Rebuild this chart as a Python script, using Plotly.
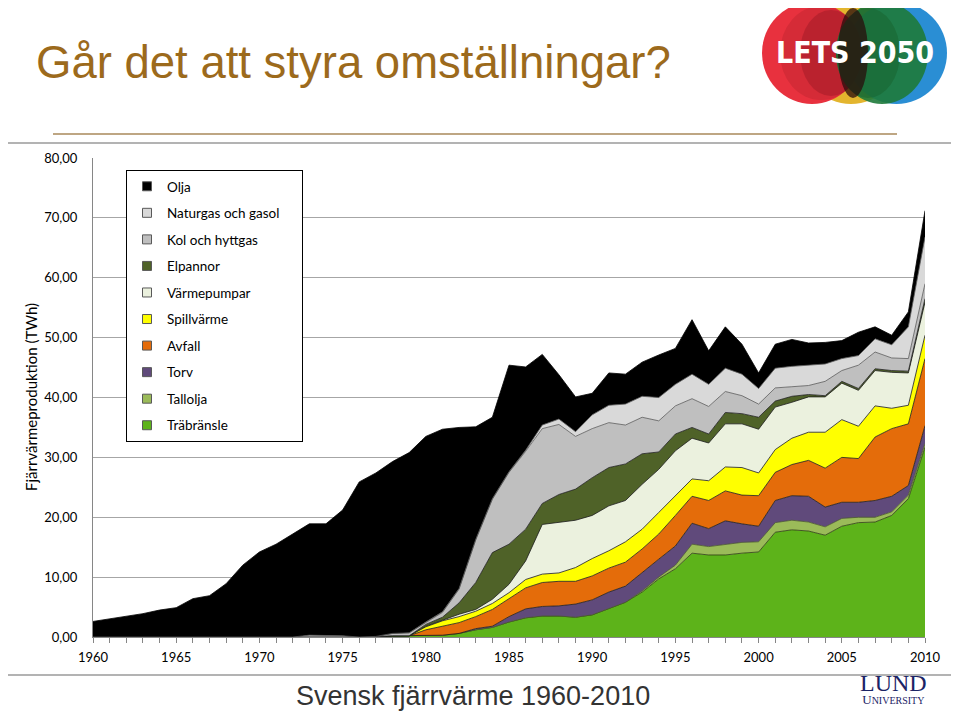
import plotly.graph_objects as go

# ---------------- data (TWh) ----------------
years = list(range(1960, 2011))

z20 = [0] * 20
trabransle = [0] * 17 + [0.1, 0.2, 0.2] + [
    0.2, 0.3, 0.6, 1.2, 1.6, 2.5, 3.2, 3.5, 3.5, 3.3, 3.7, 4.7, 5.8, 7.5, 9.7, 11.4,
    14.0, 13.7, 13.7, 14.0, 14.2, 17.5, 17.9, 17.7, 17.0, 18.5, 19.1, 19.2, 20.3, 23.1, 31.7]
tallolja = z20 + [0] * 13 + [
    0.2, 0.3, 0.6, 1.5, 1.4, 1.8, 1.8, 1.7, 1.6, 1.6, 1.5, 1.4, 1.3, 0.9, 0.8, 0.6, 0.6, 0.6]
torv = z20 + [
    0, 0, 0, 0.2, 0.2, 0.9, 1.5, 1.6, 1.7, 2.2, 2.5, 2.8, 2.7, 3.1, 3.0, 3.2,
    3.5, 3.0, 3.9, 3.1, 2.6, 3.7, 4.1, 4.3, 3.3, 2.7, 2.5, 2.8, 2.6, 1.6, 3.0]
avfall = z20 + [
    1.0, 1.5, 1.8, 2.0, 2.8, 3.0, 3.5, 4.0, 4.1, 3.8, 4.0, 4.0, 4.0, 3.9, 4.2, 5.1,
    4.5, 4.7, 5.0, 4.8, 5.1, 4.7, 5.2, 6.0, 6.5, 7.5, 7.3, 10.6, 11.3, 10.3, 11.2]
spillvarme = z20 + [
    0.5, 0.9, 1.0, 0.9, 1.0, 1.0, 1.4, 1.4, 1.4, 2.3, 2.9, 2.9, 3.4, 3.3, 3.6, 3.3,
    2.9, 3.3, 4.0, 4.6, 3.8, 3.8, 4.4, 4.7, 6.0, 6.3, 5.4, 5.2, 3.4, 3.1, 3.9]
varmepumpar = z20 + [
    0.1, 0.1, 0.4, 0.3, 0.7, 1.4, 3.1, 8.3, 8.4, 7.9, 7.2, 7.5, 6.9, 7.5, 7.2, 7.5,
    6.8, 6.3, 7.2, 7.3, 7.3, 7.1, 6.0, 5.9, 5.9, 6.1, 6.0, 5.9, 6.0, 5.4, 5.5]
elpannor = z20 + [
    0.3, 0.5, 1.9, 4.5, 7.8, 6.7, 5.3, 3.5, 4.7, 5.2, 6.3, 6.4, 6.1, 5.1, 2.9, 2.8,
    1.8, 1.5, 1.9, 1.7, 2.0, 1.0, 1.0, 0.4, 0.2, 0.3, 0.3, 0.3, 0.3, 0.3, 0.6]
kol = [0] * 18 + [0.4, 0.5] + [
    0.3, 0.8, 2.3, 7.1, 8.9, 12.0, 13.0, 12.5, 11.7, 8.8, 8.2, 7.5, 6.5, 6.1, 5.2, 4.7,
    4.8, 4.6, 3.5, 3.0, 2.2, 2.2, 1.6, 1.5, 2.4, 1.8, 3.9, 2.8, 2.1, 2.1, 2.5]
naturgas = [0] * 13 + [0.3, 0.3, 0.2] + [0] * 4 + [
    0.1, 0.1, 0.1, 0.1, 0.1, 0.1, 0.2, 0.6, 0.9, 0.8, 2.3, 2.9, 3.5, 3.5, 3.9, 3.6,
    4.1, 3.7, 3.9, 3.6, 2.6, 3.3, 3.4, 3.4, 2.9, 2.0, 1.6, 2.2, 2.2, 5.3, 7.8]
olja = [
    2.6, 3.0, 3.5, 3.9, 4.5, 4.9, 6.4, 6.9, 8.9, 12.0, 14.2, 15.5, 17.2, 18.6, 18.6,
    21.0, 25.9, 27.3, 28.7, 30.1,
    31.0, 30.5, 26.9, 18.8, 13.6, 17.8, 13.9, 11.8, 7.4, 5.8, 3.6, 5.4, 5.0, 5.7, 7.1,
    6.0, 9.1, 5.6, 6.9, 5.0, 2.6, 4.0, 4.5, 3.7, 3.6, 3.0, 3.9, 2.0, 1.6, 2.5, 4.4]

# stacking order bottom -> top
series_names = ["Träbränsle", "Tallolja", "Torv", "Avfall", "Spillvärme",
                "Värmepumpar", "Elpannor", "Kol och hyttgas", "Naturgas och gasol", "Olja"]
series_values = [trabransle, tallolja, torv, avfall, spillvarme,
                 varmepumpar, elpannor, kol, naturgas, olja]
series_colors = ["#5DB31A", "#9BBB59", "#604A7B", "#E46C0A", "#FFFF00",
                 "#EBF1DE", "#4F6228", "#BFBFBF", "#D9D9D9", "#000000"]
edge_colors = ["#2b3a10", "#4a5a2a", "#1a1a1a", "#1a1a1a", "#1a1a1a",
               "#1a1a1a", "#1a1a1a", "#595959", "#595959", "#000000"]

yticks = [0, 10, 20, 30, 40, 50, 60, 70, 80]
xticks = [1960, 1965, 1970, 1975, 1980, 1985, 1990, 1995, 2000, 2005, 2010]

# ---------------- geometry (reference pixel frame) ----------------
OFF = 8                      # page body margin of the html page
W, H = 959 - OFF, 713 - OFF
PL, PR, PT, PB = 93, 925, 158, 637


def fx(x):
    return (x - PL) / (PR - PL)


def fy(y):
    return (PB - y) / (PB - PT)


fig = go.Figure()

for name, vals, col, ec in zip(series_names, series_values, series_colors, edge_colors):
    fig.add_trace(go.Scatter(
        x=years, y=vals, name=name, stackgroup="one", mode="lines",
        line=dict(color=ec, width=0.8), fillcolor=col, showlegend=False,
        hoverinfo="x+y+name"))

# legend entries (square swatches), top to bottom as in the reference
pad = {"Naturgas och gasol": "\u2003\u2002"}
for name, col in zip(series_names[::-1], series_colors[::-1]):
    fig.add_trace(go.Scatter(
        x=[None], y=[None], mode="markers", name=name + pad.get(name, ""), legendgroup=name,
        marker=dict(symbol="square", size=9, color=col,
                    line=dict(color="#595959", width=1))))

title_col = "#9C6A1C"

annotations = [
    dict(text="Går det att styra omställningar?", x=fx(34), y=fy(62), xref="paper", yref="paper",
         xanchor="left", yanchor="middle", showarrow=False,
         font=dict(family="Liberation Sans, Arial, sans-serif", size=45.5, color=title_col)),
    dict(text="Svensk fjärrvärme 1960-2010", x=fx(473), y=fy(696), xref="paper", yref="paper",
         xanchor="center", yanchor="middle", showarrow=False,
         font=dict(family="Liberation Sans, Arial, sans-serif", size=27, color="#333333")),
    dict(text="Fjärrvärmeproduktion (TWh)", x=fx(31), y=fy(397), xref="paper", yref="paper",
         xanchor="center", yanchor="middle", showarrow=False, textangle=-90,
         font=dict(family="Lato, sans-serif", size=15, color="#000000")),
    dict(text="<b>LETS 2050</b>", x=fx(855), y=fy(53), xref="paper", yref="paper",
         xanchor="center", yanchor="middle", showarrow=False,
         font=dict(family="DejaVu Sans Condensed, Liberation Sans Narrow, sans-serif",
                   size=30, color="#FFFFFF")),
    dict(text="<span style='font-size:24px'>LUND</span><br>"
              "<span style='font-size:13px'>U</span>NIVERSITY",
         x=fx(893), y=fy(688), xref="paper", yref="paper",
         xanchor="center", yanchor="middle", showarrow=False, align="center",
         font=dict(family="Liberation Serif, serif", size=10, color="#1B2466")),
]


def circ(x0, x1, y0, y1, color, opacity=1.0):
    return dict(type="circle", xref="paper", yref="paper", x0=fx(x0), x1=fx(x1),
                y0=fy(y1), y1=fy(y0), fillcolor=color, opacity=opacity, line=dict(width=0))


shapes = [
    # chart frame
    dict(type="rect", xref="paper", yref="paper", x0=fx(3), x1=fx(956), y0=fy(675), y1=fy(143),
         line=dict(color="#9a9a9a", width=1.5), fillcolor="rgba(0,0,0,0)", layer="below"),
    # title rule
    dict(type="line", xref="paper", yref="paper", x0=fx(53), x1=fx(897), y0=fy(134), y1=fy(134),
         line=dict(color="#A8885A", width=1.5)),
    # LETS 2050 logo discs
    circ(800, 902, 2, 104, "#E3B52E"),
    circ(846, 947, 2, 104, "#2A8ED4"),
    circ(762, 862, 2, 104, "#E8313E"),
    circ(780, 862, 6, 100, "#C52632", 0.55),
    circ(800, 862, 10, 96, "#A41C28", 0.55),
    circ(836, 928, 2, 104, "#1E7A3A", 0.9),
    circ(836, 900, 8, 98, "#17612D", 0.5),
    circ(838, 868, 8, 98, "#2A0C0C", 0.75),
]

fig.update_layout(
    width=W, height=H,
    margin=dict(l=PL - OFF, r=959 - PR, t=PT - OFF, b=713 - PB, autoexpand=False),
    paper_bgcolor="white", plot_bgcolor="white",
    separators=", ",
    font=dict(family="Lato, sans-serif", size=13, color="#000000"),
    showlegend=True,
    legend=dict(x=fx(126), y=fy(170), xanchor="left", yanchor="top",
                bgcolor="white", bordercolor="#000000", borderwidth=1,
                traceorder="grouped", tracegroupgap=6,
                font=dict(family="Lato, sans-serif", size=13.5, color="#000000")),
    xaxis=dict(range=[1960, 2010], tickvals=xticks, ticks="outside", ticklen=5,
               tickcolor="#868686", showline=True, linecolor="#868686", linewidth=1,
               showgrid=False, zeroline=False, ticklabelstandoff=3,
               minor=dict(dtick=1, ticks="outside", ticklen=5, tickcolor="#868686"),
               tickfont=dict(family="Lato, sans-serif", size=13)),
    yaxis=dict(range=[0, 80], tickvals=yticks, tickformat=".2f", showgrid=True,
               gridcolor="#A6A6A6", gridwidth=1, showline=True, linecolor="#868686",
               zeroline=False, ticks="", ticklabelstandoff=12,
               tickfont=dict(family="Lato, sans-serif", size=13)),
    annotations=annotations,
    shapes=shapes,
)

fig.write_html("out.html")
